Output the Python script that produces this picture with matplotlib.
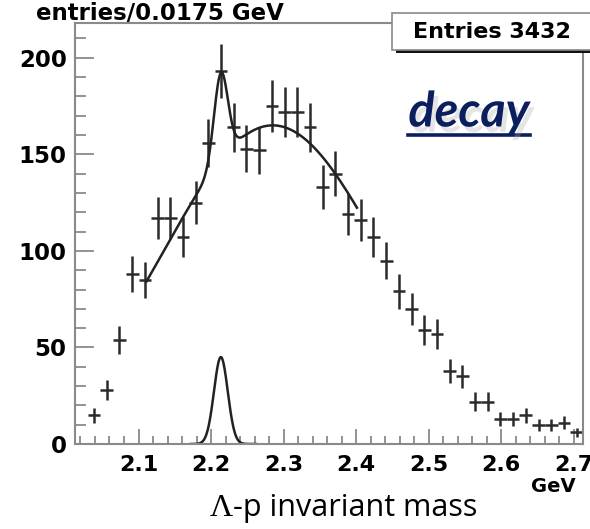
import numpy as np
import matplotlib
matplotlib.use('Agg')
from matplotlib import pyplot as plt
from matplotlib import patheffects
from matplotlib.ticker import MultipleLocator
from matplotlib.patches import Rectangle
from matplotlib.lines import Line2D

# histogram: 40 bins of 0.0175 GeV from 2.0125 to 2.7125, first bin empty
bin_lo = 2.0125
bin_w = 0.0175
counts = [0, 15, 28, 54, 88, 85, 117, 117, 107, 125, 156, 193, 164, 153, 152,
          175, 172, 172, 164, 133, 140, 119, 116, 107, 95, 79, 70, 59, 57, 38,
          35, 22, 22, 13, 13, 15, 10, 10, 11, 6]

# fit: gaussian peak + broad gaussian background
peak_amp, peak_mean, peak_sigma = 45.0, 2.2135, 0.0095
bg_amp, bg_mean, bg_sigma = 165.0, 2.285, 0.15
fit_range = (2.111, 2.401)
peak_range = (2.172, 2.262)

xticks = [2.1, 2.2, 2.3, 2.4, 2.5, 2.6, 2.7]
yticks = [0, 50, 100, 150, 200]


def gaus(x, a, m, s):
    return a * np.exp(-0.5 * ((x - m) / s) ** 2)


counts = np.array(counts, dtype=float)
centers = bin_lo + bin_w * (np.arange(len(counts)) + 0.5)
mask = counts > 0

fig = plt.figure(figsize=(5.9, 5.29), dpi=100)
ax = fig.add_axes([75 / 590, 85 / 529, 508 / 590, 421 / 529])

ax.errorbar(centers[mask], counts[mask], yerr=np.sqrt(counts[mask]),
            xerr=bin_w / 2, fmt='none', ecolor='#2a2a2a', elinewidth=1.8,
            capsize=0)

xf = np.linspace(fit_range[0], fit_range[1], 400)
ax.plot(xf, gaus(xf, peak_amp, peak_mean, peak_sigma) + gaus(xf, bg_amp, bg_mean, bg_sigma),
        color='#222222', lw=1.8)
xp = np.linspace(peak_range[0], peak_range[1], 200)
ax.plot(xp, gaus(xp, peak_amp, peak_mean, peak_sigma), color='#222222', lw=1.8)

ax.set_xlim(bin_lo, bin_lo + bin_w * len(counts))
ax.set_ylim(0, 218)
ax.set_xticks(xticks)
ax.set_yticks(yticks)
ax.xaxis.set_minor_locator(MultipleLocator(0.02))
ax.yaxis.set_minor_locator(MultipleLocator(10))
ax.set_xticklabels(['%.1f' % t for t in xticks], fontsize=16, fontweight='bold',
                   family='DejaVu Sans')
ax.set_yticklabels([str(t) for t in yticks], fontsize=16.5, fontweight='bold',
                   family='DejaVu Sans')
ax.tick_params(which='both', direction='in', color='#8a8a8a', width=1.3,
               top=False, right=False)
ax.tick_params(axis='x', which='major', length=11, pad=8)
ax.tick_params(axis='x', which='minor', length=6)
ax.tick_params(axis='y', which='major', length=14, pad=6)
ax.tick_params(axis='y', which='minor', length=8)
for sp in ax.spines.values():
    sp.set_color('#8a8a8a')
    sp.set_linewidth(1.5)

# ROOT style texts
fig.text(160 / 590, 1 - 14 / 529, 'entries/0.0175 GeV', ha='center', va='center',
         fontsize=16.5, fontweight='bold', family='DejaVu Sans')
fig.text(553 / 590, 1 - 487 / 529, 'GeV', ha='center', va='center',
         fontsize=14, fontweight='bold', family='DejaVu Sans')

# stats box
shadow = Rectangle((396 / 590, 1 - 53 / 529), 200 / 590, 38 / 529,
                   transform=fig.transFigure, facecolor='#111111', edgecolor='none')
box = Rectangle((392 / 590, 1 - 50 / 529), 200 / 590, 37 / 529,
                transform=fig.transFigure, facecolor='white', edgecolor='#8a8a8a', lw=1.2)
fig.add_artist(shadow)
fig.add_artist(box)
fig.text(492 / 590, 1 - 32 / 529, 'Entries 3432', ha='center', va='center',
         fontsize=16, fontweight='bold', family='DejaVu Sans')

# "decay" label
navy = '#0b1f5e'
t = fig.text(469 / 590, 1 - 112 / 529, 'decay', ha='center', va='center',
             fontsize=35, fontweight='bold', style='italic', family='Lato',
             color=navy,
             path_effects=[patheffects.SimplePatchShadow(offset=(3, -4), shadow_rgbFace='#aaaaaa', alpha=0.3),
                           patheffects.Normal()])
fig.canvas.draw()
bb = t.get_window_extent().transformed(fig.transFigure.inverted())
fig.add_artist(Line2D([bb.x0, bb.x1], [1 - 135 / 529, 1 - 135 / 529],
                      transform=fig.transFigure, color=navy, lw=2.6))

# caption
lam = fig.text(210 / 590, 1 - 508 / 529, '\u039b', ha='left', va='center',
               fontsize=23, family='Liberation Serif')
fig.canvas.draw()
lb = lam.get_window_extent().transformed(fig.transFigure.inverted())
fig.text(lb.x1, 1 - 508 / 529, '-p invariant mass', ha='left', va='center',
         fontsize=22, family='Open Sans')

fig.savefig('out.png', dpi=100)
